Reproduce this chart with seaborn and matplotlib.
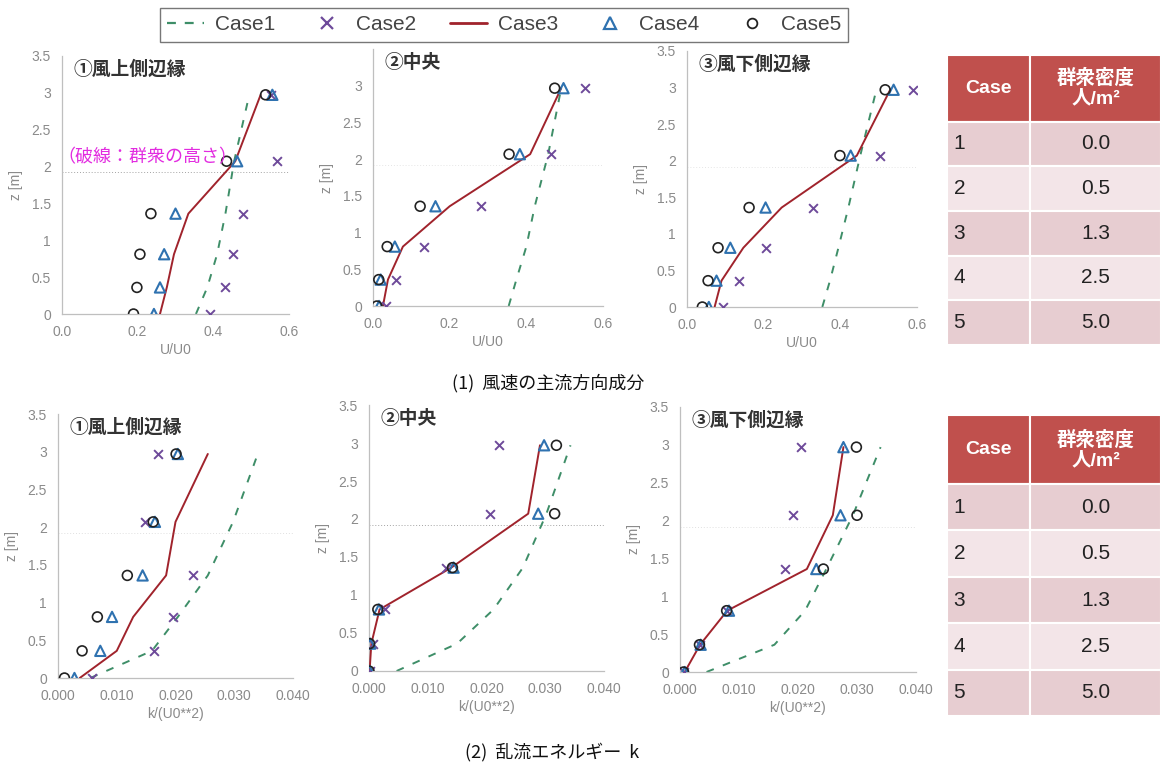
import matplotlib
matplotlib.use("Agg")
import matplotlib.pyplot as plt
import seaborn as sns
import pandas as pd
from matplotlib.lines import Line2D
from matplotlib.ticker import FuncFormatter, MultipleLocator

sns.set_theme(style="white")
plt.rcParams['font.family'] = ['Liberation Sans', 'Noto Sans CJK JP', 'DejaVu Sans']

# measurement heights [m] and crowd height
Z = [0.0, 0.36, 0.81, 1.36, 2.07, 2.97]
CROWD_H = 1.92

CASES = ["Case1", "Case2", "Case3", "Case4", "Case5"]
DENSITY = ["0.0", "0.5", "1.3", "2.5", "5.0"]
TITLES = ["①風上側辺縁", "②中央", "③風下側辺縁"]

# streamwise wind speed U/U0
U_UPWIND = {
    "Case1": [0.354, 0.384, 0.410, 0.432, 0.455, 0.495],
    "Case2": [0.391, 0.430, 0.451, 0.479, 0.568, 0.552],
    "Case3": [0.259, 0.277, 0.296, 0.334, 0.458, 0.525],
    "Case4": [0.243, 0.259, 0.270, 0.300, 0.463, 0.556],
    "Case5": [0.189, 0.198, 0.206, 0.235, 0.435, 0.538],
}
U_CENTER = {
    "Case1": [0.354, 0.374, 0.400, 0.422, 0.457, 0.491],
    "Case2": [0.033, 0.061, 0.132, 0.281, 0.465, 0.554],
    "Case3": [0.026, 0.039, 0.078, 0.200, 0.410, 0.491],
    "Case4": [0.016, 0.020, 0.057, 0.163, 0.383, 0.497],
    "Case5": [0.010, 0.015, 0.037, 0.123, 0.355, 0.474],
}
U_DOWNWIND = {
    "Case1": [0.353, 0.373, 0.395, 0.421, 0.452, 0.494],
    "Case2": [0.094, 0.136, 0.206, 0.328, 0.504, 0.590],
    "Case3": [0.072, 0.090, 0.147, 0.247, 0.443, 0.530],
    "Case4": [0.057, 0.077, 0.113, 0.205, 0.427, 0.539],
    "Case5": [0.040, 0.055, 0.081, 0.162, 0.399, 0.517],
}

# turbulent kinetic energy k/U0^2
K_UPWIND = {
    "Case1": [0.0055, 0.0160, 0.0204, 0.0255, 0.0298, 0.0340],
    "Case2": [0.0058, 0.0163, 0.0195, 0.0230, 0.0148, 0.0170],
    "Case3": [0.0037, 0.0100, 0.0128, 0.0184, 0.0200, 0.0255],
    "Case4": [0.0028, 0.0072, 0.0092, 0.0144, 0.0165, 0.0204],
    "Case5": [0.0011, 0.0041, 0.0067, 0.0118, 0.0162, 0.0201],
}
K_CENTER = {
    "Case1": [0.0047, 0.0150, 0.0212, 0.0262, 0.0302, 0.0343],
    "Case2": [0.0001, 0.0007, 0.0028, 0.0131, 0.0206, 0.0221],
    "Case3": [0.0001, 0.0004, 0.0018, 0.0140, 0.0271, 0.0291],
    "Case4": [0.0001, 0.0002, 0.0017, 0.0144, 0.0288, 0.0298],
    "Case5": [0.0000, 0.0001, 0.0015, 0.0142, 0.0316, 0.0319],
}
K_DOWNWIND = {
    "Case1": [0.0045, 0.0160, 0.0212, 0.0248, 0.0293, 0.0340],
    "Case2": [0.0007, 0.0034, 0.0080, 0.0178, 0.0192, 0.0205],
    "Case3": [0.0008, 0.0034, 0.0080, 0.0215, 0.0259, 0.0277],
    "Case4": [0.0008, 0.0035, 0.0083, 0.0231, 0.0272, 0.0277],
    "Case5": [0.0006, 0.0033, 0.0079, 0.0243, 0.0300, 0.0299],
}

GREEN = "#3E8E68"
PURPLE = "#6E4A9A"
DARKRED = "#A0232C"
BLUE = "#2F72B0"
BLACK = "#222222"
GRID_GREY = "#BFBFBF"
TICK_GREY = "#8A8A8A"

W, H = 1161, 767
fig = plt.figure(figsize=(W / 100, H / 100), dpi=100)


def px_axes(left, right, y0, ytop):
    return fig.add_axes([left / W, 1 - y0 / H, (right - left) / W, (y0 - ytop) / H])


def draw_panel(ax, data, xmax, xstep, xfmt, xlabel, title, yticks_max, crowd_alpha):
    df = pd.DataFrame({c: data[c] for c in CASES})
    df["z"] = Z
    ax.axhline(CROWD_H, color="#9A9A9A", lw=0.7, ls=(0, (1, 2)), alpha=crowd_alpha, zorder=1)
    sns.lineplot(data=df, x="Case1", y="z", sort=False, estimator=None, ax=ax,
                 color=GREEN, lw=1.4, dashes=False, zorder=2)
    ax.lines[-1].set_linestyle((0, (4, 5)))
    sns.lineplot(data=df, x="Case3", y="z", sort=False, estimator=None, ax=ax,
                 color=DARKRED, lw=1.4, zorder=3)
    sns.scatterplot(data=df, x="Case2", y="z", ax=ax, marker="x", color=PURPLE,
                    s=40, linewidth=1.4, zorder=4)
    sns.scatterplot(data=df, x="Case4", y="z", ax=ax, marker="^", facecolor="none",
                    edgecolor=BLUE, s=55, linewidth=1.5, zorder=5)
    sns.scatterplot(data=df, x="Case5", y="z", ax=ax, marker="o", facecolor="none",
                    edgecolor=BLACK, s=50, linewidth=1.2, zorder=6)
    ax.set_xlim(0, xmax)
    ax.set_ylim(0, 3.5)
    ax.xaxis.set_major_locator(MultipleLocator(xstep))
    ax.set_yticks([v * 0.5 for v in range(int(yticks_max * 2) + 1)])
    ax.xaxis.set_major_formatter(FuncFormatter(lambda v, p: xfmt.format(v)))
    ax.yaxis.set_major_formatter(FuncFormatter(lambda v, p: f"{v:g}"))
    ax.tick_params(length=0, labelsize=10, labelcolor=TICK_GREY, pad=8)
    for s in ("top", "right"):
        ax.spines[s].set_visible(False)
    for s in ("left", "bottom"):
        ax.spines[s].set_color(GRID_GREY)
        ax.spines[s].set_linewidth(0.9)
    ax.set_xlabel(xlabel, color=TICK_GREY, fontsize=10, labelpad=3)
    ax.set_ylabel("z [m]", color=TICK_GREY, fontsize=10, labelpad=6)
    ax.text(0.05, 0.985, title, transform=ax.transAxes, ha="left", va="top",
            fontsize=13.5, fontweight="bold", color="#333333",
            family=["Noto Sans CJK JP", "DejaVu Sans"])


top_boxes = [(62, 289, 314, 55.7), (373, 603, 306, 49.3), (687, 917, 307, 51)]
bot_boxes = [(58, 293, 678, 414), (369, 604, 671, 405), (680, 916, 672, 407)]
u_sets = [U_UPWIND, U_CENTER, U_DOWNWIND]
k_sets = [K_UPWIND, K_CENTER, K_DOWNWIND]
top_crowd = [0.9, 0.25, 0.25]
bot_crowd = [0.3, 0.9, 0.3]
top_ymax = [3.5, 3.0, 3.5]

axes_top = []
for box, data, title, ym, ca in zip(top_boxes, u_sets, TITLES, top_ymax, top_crowd):
    ax = px_axes(*box)
    draw_panel(ax, data, 0.6, 0.2, "{:.1f}", "U/U0", title, ym, ca)
    axes_top.append(ax)
for box, data, title, ca in zip(bot_boxes, k_sets, TITLES, bot_crowd):
    ax = px_axes(*box)
    draw_panel(ax, data, 0.04, 0.01, "{:.3f}", "k/(U0**2)", title, 3.5, ca)

axes_top[0].text(-0.012, 2.13, "（破線：群衆の高さ）", color="#E22BE0", fontsize=13,
                 ha="left", va="center", zorder=7,
                 family=["Noto Sans CJK JP", "DejaVu Sans"])

# shared legend
handles = [
    Line2D([], [], color=GREEN, lw=1.6, ls=(0, (4, 4))),
    Line2D([], [], color=PURPLE, marker="x", ls="none", ms=8, mew=1.6),
    Line2D([], [], color=DARKRED, lw=2.0),
    Line2D([], [], color=BLUE, marker="^", ls="none", ms=8, mfc="none", mew=1.6),
    Line2D([], [], color=BLACK, marker="o", ls="none", ms=7, mfc="none", mew=1.3),
]
leg = fig.legend(handles, CASES, loc="center", bbox_to_anchor=(504 / W, 1 - 25 / H),
                 ncol=5, frameon=True, fancybox=False, handlelength=1.8,
                 columnspacing=1.6, handletextpad=0.5, borderpad=0.35, borderaxespad=0,
                 prop={"family": "Liberation Sans", "size": 15})
leg.get_frame().set_edgecolor("#555555")
leg.get_frame().set_linewidth(1.0)
for t in leg.get_texts():
    t.set_color("#444444")

# crowd density tables
HEAD_RED = "#C0504D"
ROW_COLORS = ["#E7CDD1", "#F3E5E8"]


def draw_table(y_top, y_bot):
    tax = fig.add_axes([947 / W, 1 - y_bot / H, (1161 - 947) / W, (y_bot - y_top) / H])
    tax.axis("off")
    cells = [["Case", "群衆密度\n人/m²"]] + [[c[-1], d] for c, d in zip(CASES, DENSITY)]
    colours = [[HEAD_RED, HEAD_RED]] + [[ROW_COLORS[i % 2]] * 2 for i in range(len(CASES))]
    tbl = tax.table(cellText=cells, cellColours=colours, bbox=[0, 0, 1, 1],
                    colWidths=[83, 131])
    tbl.auto_set_font_size(False)
    for (r, c), cell in tbl.get_celld().items():
        cell.set_edgecolor("white")
        cell.set_linewidth(1.5)
        cell.set_height(67 if r == 0 else 45)
        txt = cell.get_text()
        txt.set_family(["Liberation Sans", "Noto Sans CJK JP"])
        if r == 0:
            txt.set_color("white")
            txt.set_fontweight("bold")
            txt.set_fontsize(14)
            txt.set_ha("center")
            txt.set_linespacing(1.15)
        else:
            txt.set_color("#222222")
            txt.set_fontsize(15)
            txt.set_ha("left" if c == 0 else "center")
        if c == 0 and r > 0:
            cell.PAD = 0.08
    return tbl


draw_table(55, 345)
draw_table(415, 716)

fig.text(548 / W, 1 - 383 / H, "(1)  風速の主流方向成分", ha="center", va="center",
         fontsize=13, color="#111111", family=["Noto Sans CJK JP", "DejaVu Sans"])
fig.text(552 / W, 1 - 752 / H, "(2)  乱流エネルギー  k", ha="center", va="center",
         fontsize=13, color="#111111", family=["Noto Sans CJK JP", "DejaVu Sans"])

fig.savefig("out.png", dpi=100, facecolor="white")
